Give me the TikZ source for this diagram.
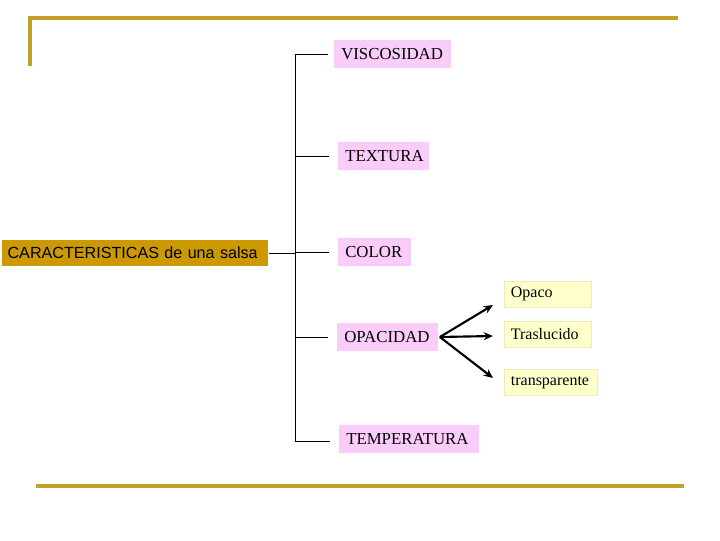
\documentclass[tikz,border=0pt]{standalone}
\usepackage{fontspec}
\setmainfont{Liberation Serif}
\newfontfamily\arialf{Liberation Sans}
\usetikzlibrary{arrows.meta}
\definecolor{goldline}{RGB}{196,160,40}
\definecolor{goldbox}{RGB}{204,153,0}
\definecolor{pinkc}{RGB}{250,204,250}
\definecolor{yellc}{RGB}{255,255,204}
\tikzset{
  pinkbox/.style={fill=pinkc, anchor=west, inner xsep=5.25pt, inner ysep=0pt, minimum height=21pt, align=left, font=\fontsize{12.6}{14}\selectfont},
  yellbox/.style={fill=yellc, draw=yellc!85!gray, line width=0.3pt, anchor=west, inner xsep=5pt, inner ysep=0pt, minimum height=19.5pt, align=left, font=\fontsize{12}{14}\selectfont},
  branch/.style={line width=0.75pt, black},
  arr/.style={line width=1.6pt, -{Stealth[length=7pt,width=6pt]}},
  rule/.style={goldline, line width=2.4pt}
}
\begin{document}
\begin{tikzpicture}[x=0.75pt,y=-0.75pt]
\useasboundingbox (0,0) rectangle (720,540);
% gold rules
\draw[rule] (30,66) -- (30,18) -- (678,18);
\draw[rule] (36,486) -- (684,486);
% main node
\node[fill=goldbox, anchor=west, text width=191.5pt, align=left, minimum height=19.5pt, inner xsep=4pt, inner ysep=0pt, font=\arialf\fontsize{12.1}{14}\selectfont] (main) at (2,253) {CARACTERISTICAS de una salsa};
% pink nodes
\node[pinkbox, text width=77.25pt] (visc) at (334,54) {VISCOSIDAD};
\node[pinkbox, text width=57.75pt] (text) at (338,156) {TEXTURA};
\node[pinkbox, text width=44.25pt] (color) at (338,252) {COLOR};
\node[pinkbox, text width=65.25pt] (opac) at (337,337) {OPACIDAD};
\node[pinkbox, text width=94.5pt] (temp) at (339,439) {TEMPERATURA};
% yellow nodes
\node[yellbox, text width=55.25pt] (opaco) at (504,294) {Opaco};
\node[yellbox, text width=55.25pt] (trasl) at (504,334.5) {Traslucido};
\node[yellbox, text width=59.75pt] (transp) at (504,382.5) {transparente};
% trunk
\coordinate (ttop) at (295,54);
\coordinate (tbot) at (295,441);
\coordinate (tmain) at (295,253);
\draw[branch] (ttop) -- (tbot);
\draw[branch] (main.east) -- (tmain);
\draw[branch, shorten >=4.5pt] (ttop) -- (visc.west);
\draw[branch, shorten >=6.5pt] (295,156) -- (text.west);
\draw[branch, shorten >=6.5pt] (295,252) -- (color.west);
\draw[branch, shorten >=6.5pt] (295,337) -- (opac.west);
\draw[branch, shorten >=7pt] (tbot) -- (tbot -| temp.west);
% arrows
\coordinate (aup) at (493,305);
\coordinate (amid) at (493,336);
\coordinate (alow) at (493,378);
\draw[arr] ([xshift=1pt]opac.east) -- (aup);
\draw[arr] ([xshift=1pt]opac.east) -- (amid);
\draw[arr] ([xshift=1pt]opac.east) -- (alow);
\end{tikzpicture}
\end{document}
